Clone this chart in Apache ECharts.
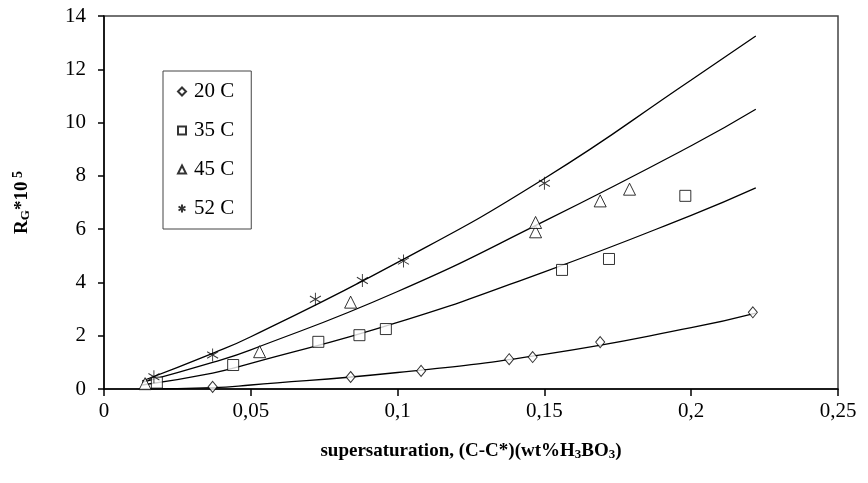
<!DOCTYPE html>
<html>
<head>
<meta charset="utf-8">
<script src="https://cdn.jsdelivr.net/npm/echarts@6/dist/echarts.min.js"></script>
<style>
  html, body { margin: 0; padding: 0; background: #fff; }
  #chart { width: 868px; height: 483px; }
</style>
</head>
<body>
<div id="chart"></div>
<script>
// measured points [x, y]
var pts20 = [[0.037, 0.08], [0.084, 0.45], [0.108, 0.68], [0.138, 1.12], [0.146, 1.2], [0.169, 1.76], [0.221, 2.88]];
var pts35 = [[0.018, 0.24], [0.044, 0.9], [0.073, 1.77], [0.087, 2.02], [0.096, 2.25], [0.156, 4.47], [0.172, 4.88], [0.198, 7.25]];
var pts45 = [[0.014, 0.2], [0.053, 1.4], [0.084, 3.26], [0.147, 5.9], [0.147, 6.25], [0.169, 7.06], [0.179, 7.5]];
var pts52 = [[0.017, 0.46], [0.037, 1.28], [0.072, 3.37], [0.088, 4.07], [0.102, 4.8], [0.150, 7.72]];

// fitted curves
var fitX = [0.013, 0.037, 0.05, 0.1, 0.15, 0.2, 0.222];
var fit20 = [0.0, 0.05, 0.15, 0.62, 1.3, 2.3, 2.85];
var fit35 = [0.15, 0.6, 0.96, 2.5, 4.4, 6.52, 7.55];
var fit45 = [0.25, 1.0, 1.47, 3.66, 6.3, 9.13, 10.5];
var fit52 = [0.3, 1.34, 1.96, 4.75, 7.9, 11.6, 13.25];

var names = ['20 C', '35 C', '45 C', '52 C'];
var serif = 'Liberation Serif';
var starPath = 'path://M0,-10L0,10M-8.7,-5L8.7,5M-8.7,5L8.7,-5';

function zip(xs, ys) {
  return xs.map(function (x, i) { return [x, ys[i]]; });
}

function scatter(name, data, symbol, size) {
  return {
    name: name,
    type: 'scatter',
    data: data,
    symbol: symbol,
    symbolSize: size,
    itemStyle: { color: '#fff', borderColor: '#000', borderWidth: 1 },
    z: 3
  };
}

function fitLine(ys) {
  return {
    type: 'line',
    data: zip(fitX, ys),
    smooth: true,
    showSymbol: false,
    symbol: 'none',
    lineStyle: { color: '#000', width: 1.3 },
    silent: true,
    z: 2
  };
}

var chart = echarts.init(document.getElementById('chart'));
chart.setOption({
  backgroundColor: '#fff',
  animation: false,
  grid: {
    left: 104, right: 30, top: 16, bottom: 94,
    outerBoundsMode: 'none',
    containLabel: false,
    show: true, borderColor: '#444', borderWidth: 1.5
  },
  legend: {
    data: names,
    orient: 'vertical',
    left: 163, top: 71,
    padding: [10, 17, 10, 14],
    itemGap: 18,
    itemWidth: 8, itemHeight: 8,
    borderColor: '#444', borderWidth: 1,
    textStyle: { fontFamily: serif, fontSize: 21, color: '#000', padding: [0, 0, 0, 3] }
  },
  xAxis: {
    type: 'value',
    min: 0, max: 0.25, interval: 0.05,
    splitLine: { show: false },
    axisLine: { lineStyle: { color: '#000', width: 1.5 } },
    axisTick: { show: true, length: 7, lineStyle: { color: '#000', width: 1.5 } },
    axisLabel: {
      fontFamily: serif, fontSize: 21, color: '#000', margin: 12,
      formatter: function (v) { return String(+v.toFixed(2)).replace('.', ','); }
    },
    name: '{b|supersaturation, (C-C*)(wt%H}{s|3}{b|BO}{s|3}{b|)}',
    nameLocation: 'middle',
    nameGap: 52,
    nameTextStyle: {
      rich: {
        b: { fontFamily: serif, fontSize: 19, fontWeight: 'bold', color: '#000' },
        s: { fontFamily: serif, fontSize: 13, fontWeight: 'bold', color: '#000', padding: [7, 0, 0, 0] }
      }
    }
  },
  yAxis: {
    type: 'value',
    min: 0, max: 14, interval: 2,
    splitLine: { show: false },
    axisLine: { lineStyle: { color: '#000', width: 1.5 } },
    axisTick: { show: true, length: 6, lineStyle: { color: '#000', width: 1.5 } },
    axisLabel: { fontFamily: serif, fontSize: 21, color: '#000', margin: 18 },
    name: '{b|R}{s|G}{b|*10}{p| 5}',
    nameLocation: 'middle',
    nameGap: 70,
    nameRotate: 90,
    nameTextStyle: {
      rich: {
        b: { fontFamily: serif, fontSize: 19, fontWeight: 'bold', color: '#000' },
        s: { fontFamily: serif, fontSize: 13, fontWeight: 'bold', color: '#000', padding: [7, 0, 0, 0] },
        p: { fontFamily: serif, fontSize: 14, fontWeight: 'bold', color: '#000', padding: [0, 0, 9, 0] }
      }
    }
  },
  series: [
    fitLine(fit20), fitLine(fit35), fitLine(fit45), fitLine(fit52),
    scatter(names[0], pts20, 'diamond', [9, 11]),
    scatter(names[1], pts35, 'rect', 11),
    scatter(names[2], pts45, 'triangle', 12),
    scatter(names[3], pts52, starPath, [11, 13])
  ]
});
</script>
</body>
</html>
